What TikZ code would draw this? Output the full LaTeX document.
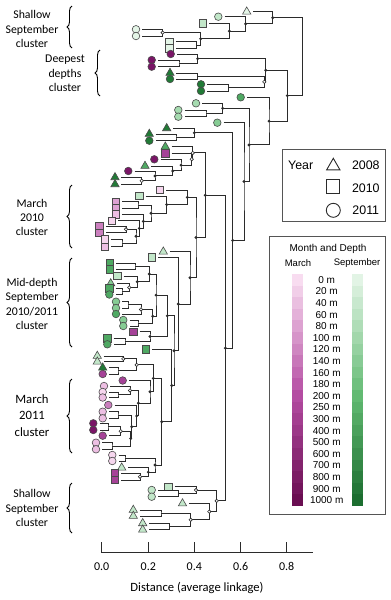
\documentclass[tikz,border=0pt]{standalone}
\usepackage{fontspec}
\setmainfont{Carlito}
\newfontfamily\arialf{Liberation Sans}
\usetikzlibrary{calc,shapes.geometric,decorations.pathreplacing}
\pgfdeclarelayer{fg}
\pgfsetlayers{main,fg}
\definecolor{ln}{HTML}{2B2B2B}
\definecolor{mkl}{HTML}{4A4A4A}
\definecolor{bx}{HTML}{555555}
\definecolor{sVL}{HTML}{E4F5E7}
\definecolor{sL}{HTML}{C2E7C9}
\definecolor{sL2}{HTML}{A6DBB0}
\definecolor{sM}{HTML}{86CC94}
\definecolor{sG}{HTML}{4FA963}
\definecolor{sD}{HTML}{217A36}
\definecolor{mVL}{HTML}{F6D6EE}
\definecolor{mL}{HTML}{EDBFE3}
\definecolor{mM}{HTML}{DDA2D3}
\definecolor{mM2}{HTML}{CB7FBE}
\definecolor{mP}{HTML}{A54297}
\definecolor{mD}{HTML}{7A1567}
\definecolor{marA}{HTML}{F8DCF0}
\definecolor{marB}{HTML}{B44CA2}
\definecolor{marC}{HTML}{6A0E52}
\definecolor{sepA}{HTML}{E2F4E5}
\definecolor{sepB}{HTML}{62BA72}
\definecolor{sepC}{HTML}{1C6E30}
\tikzset{
 mkc/.style={circle,draw=mkl,line width=0.6pt,fill=#1,minimum size=7.6pt,inner sep=0pt},
 mks/.style={rectangle,draw=mkl,line width=0.6pt,fill=#1,minimum size=7.2pt,inner sep=0pt},
 mkt/.style={regular polygon,regular polygon sides=3,draw=mkl,line width=0.6pt,fill=#1,minimum size=9.6pt,inner sep=0pt},
 br/.style={draw=ln,line width=0.95pt},
 lab/.style={align=center,font=\fontsize{11.8}{14.3}\selectfont,inner sep=0pt},
 brc/.style={decorate,decoration={brace,amplitude=5pt},line width=0.9pt,draw=black},
 yr/.style={draw=ln,line width=0.9pt,fill=white,inner sep=0pt},
 dep/.style={font=\arialf\fontsize{10}{11}\selectfont,inner sep=0pt},
 yl/.style={font=\arialf\fontsize{12.4}{14}\selectfont,inner sep=0pt},
}
\newcommand\lf[5]{\node[mk#4=#5] (m#1) at (#2,#3) {}; \coordinate (#1) at ({#2+6.3},#3);}
\newcommand\nd[5]{%
 \coordinate (xr#1) at (#2,0);
 \coordinate (md#1) at ($(#3)!0.5!(#4)$);
 \coordinate (#1) at (xr#1 |- md#1);
 \draw[br] (#3) -| (#1) |- (#4);
 \ifx b#5 \begin{pgfonlayer}{fg}\fill[ln] (#1) circle (1.6pt);\end{pgfonlayer}\fi
 \ifx w#5 \begin{pgfonlayer}{fg}\filldraw[fill=white,draw=ln,line width=0.6pt] (#1) circle (1.7pt);\end{pgfonlayer}\fi
}
\begin{document}
\begin{tikzpicture}[x=1pt,y=-1pt]
\useasboundingbox (0,0) rectangle (391,600);
% ---------- leaves ----------
\lf{t1}{246.7}{11.7}{t}{sVL}
\lf{t2}{218.3}{16.7}{c}{sL}
\lf{t3}{202.7}{23.3}{s}{sL}
\lf{t4}{136}{29.3}{c}{sVL}
\lf{t5}{136}{36}{c}{sVL}
\lf{t6}{169.3}{41.7}{s}{sVL}
\lf{t7}{169.3}{48.3}{s}{sVL}
\lf{d1}{170.7}{54}{c}{mD}
\lf{d2}{151.7}{60}{c}{mD}
\lf{d3}{151.7}{66.7}{c}{mD}
\lf{d4}{170}{73}{t}{sD}
\lf{d5}{170}{79}{c}{sD}
\lf{d6}{201}{84.3}{c}{sD}
\lf{d7}{201}{91}{c}{sD}
\lf{e1}{240.7}{97.3}{c}{sG}
\lf{e2}{196}{103.3}{c}{sL2}
\lf{e3}{178.3}{110}{c}{sL2}
\lf{e4}{178.3}{116.7}{c}{sL2}
\lf{e5}{217.3}{122.7}{c}{sM}
\lf{g1}{166.7}{128.3}{t}{sD}
\lf{g2}{149.3}{134}{t}{sD}
\lf{g3}{149.3}{140.7}{c}{sD}
\lf{h1}{165.3}{146.7}{t}{sG}
\lf{h2}{165.3}{153.3}{s}{mP}
\lf{h3}{154.3}{159.3}{c}{mD}
\lf{h4}{145}{166}{t}{sG}
\lf{h5}{128.3}{171}{c}{mD}
\lf{h6}{115}{177.3}{t}{sD}
\lf{h7}{115}{184.3}{t}{sD}
\lf{k1}{160}{190}{s}{mVL}
\lf{k2}{139.3}{196}{s}{sL}
\lf{k3}{116}{201.7}{s}{mM}
\lf{k4}{116}{208.3}{s}{mM}
\lf{k5}{116}{214.3}{s}{mL}
\lf{k6}{111.7}{220.7}{s}{mVL}
\lf{k7}{99.3}{226}{s}{mM2}
\lf{k8}{99.3}{232.7}{s}{mM2}
\lf{k9}{105}{239.3}{s}{mVL}
\lf{k10}{105}{246.7}{s}{mL}
\lf{v1}{163.3}{251.7}{t}{sL}
\lf{w1}{151.7}{257.3}{s}{sL}
\lf{m1}{110}{263.3}{s}{sG}
\lf{m2}{110}{269.3}{s}{sG}
\lf{m3}{117.3}{276}{s}{sL}
\lf{m4}{110.7}{283.5}{t}{sM}
\lf{m5}{109.3}{288.3}{s}{sG}
\lf{m6}{109.3}{294.5}{c}{sG}
\lf{m7}{116}{301.7}{c}{sM}
\lf{m8}{116}{308}{c}{sM}
\lf{m9}{116}{314}{c}{sG}
\lf{m10}{123.3}{320}{c}{sM}
\lf{m11}{123.3}{326}{c}{sM}
\lf{m12}{133.3}{331.7}{s}{mP}
\lf{m13}{107.3}{338.3}{s}{sG}
\lf{m14}{107.3}{344.3}{c}{sG}
\lf{m15}{145.7}{349.3}{s}{sG}
\lf{r1}{97.3}{356}{t}{sL}
\lf{r2}{97.3}{361.7}{t}{sL}
\lf{r3}{102.7}{367.7}{t}{sD}
\lf{r4}{102.7}{374}{c}{mP}
\lf{r5}{122.7}{380.5}{c}{mP}
\lf{r6}{104}{386}{c}{mL}
\lf{r7}{102.7}{392}{c}{mVL}
\lf{r8}{102.7}{397.5}{c}{mL}
\lf{r9}{108.3}{405}{c}{mM2}
\lf{r10}{102.7}{411.7}{c}{mL}
\lf{r11}{102.7}{418.3}{c}{mL}
\lf{r12}{93.3}{423.3}{c}{mD}
\lf{r13}{93.3}{430}{c}{mD}
\lf{r14}{102.7}{435.7}{c}{mP}
\lf{r15}{96}{442.7}{c}{mL}
\lf{r16}{96}{449.3}{c}{mL}
\lf{r17}{112.3}{455}{c}{mVL}
\lf{r18}{112.3}{461}{c}{mVL}
\lf{r19}{121.7}{467.7}{t}{sL}
\lf{r20}{114.7}{473.3}{s}{mP}
\lf{r21}{114.7}{480}{s}{mP}
\lf{s1}{168.3}{486.7}{s}{sL}
\lf{s2}{151.7}{490}{c}{sL}
\lf{s3}{151.7}{496.7}{c}{sL}
\lf{s4}{182.5}{503.5}{t}{sL}
\lf{s5}{133.3}{510}{t}{sL}
\lf{s6}{133.3}{516}{t}{sL}
\lf{s7}{142.7}{523.3}{t}{sL}
\lf{s8}{142.7}{529.7}{t}{sL}
% ---------- internal nodes ----------
\nd{nH}{162.7}{t4}{t5}{w}
\nd{nI}{196.7}{t6}{t7}{n}
\nd{nG}{200.7}{nH}{nI}{b}
\nd{nF}{229.3}{t3}{nG}{b}
\nd{nE}{245.7}{t2}{nF}{b}
\nd{nTop}{272.7}{t1}{nE}{b}
\nd{ndA}{179}{d2}{d3}{n}
\nd{nJ}{197.7}{d1}{ndA}{b}
\nd{ndB}{197.7}{d4}{d5}{n}
\nd{ndC}{228.3}{d6}{d7}{n}
\nd{nK}{264.3}{ndB}{ndC}{w}
\nd{nC}{265.7}{nJ}{nK}{b}
\nd{neA}{206}{e3}{e4}{n}
\nd{nP}{222.7}{e2}{neA}{b}
\nd{ngA}{176}{g2}{g3}{n}
\nd{nGt}{194.3}{g1}{ngA}{b}
\nd{nhA}{141.7}{h6}{h7}{w}
\nd{nhB}{155}{h5}{nhA}{b}
\nd{nhC}{172.7}{h4}{nhB}{b}
\nd{nhD}{181}{h3}{nhC}{b}
\nd{nhE}{191.7}{h2}{nhD}{w}
\nd{nhF}{192.7}{h1}{nhE}{w}
\nd{nkA}{138}{k3}{k4}{n}
\nd{nkB}{126}{k7}{k8}{w}
\nd{nkC}{122}{k9}{k10}{n}
\nd{nkD}{136}{nkB}{nkC}{b}
\nd{nkE}{139.3}{k6}{nkD}{b}
\nd{nkF}{143.3}{k5}{nkE}{b}
\nd{nkG}{151}{nkA}{nkF}{b}
\nd{nkH}{166.7}{k2}{nkG}{b}
\nd{nkI}{187.3}{k1}{nkH}{b}
\nd{nmA}{135}{m1}{m2}{n}
\nd{nmB}{122}{m5}{m6}{n}
\nd{nmC}{129.3}{m4}{nmB}{w}
\nd{nmD}{137.3}{m3}{nmC}{b}
\nd{nmE}{149.3}{nmA}{nmD}{b}
\nd{nmF}{128}{m7}{m8}{n}
\nd{nmG}{141}{nmF}{m9}{w}
\nd{nmH}{138}{m10}{m11}{n}
\nd{nmI}{152.7}{nmG}{nmH}{b}
\nd{nmJ}{156}{nmE}{nmI}{b}
\nd{nmK}{125}{m13}{m14}{n}
\nd{nmL}{150}{m12}{nmK}{b}
\nd{nXa}{167.3}{nmJ}{nmL}{b}
\nd{nrA}{123.3}{r1}{r2}{w}
\nd{nrB}{118}{r3}{r4}{n}
\nd{nrC}{136.7}{nrA}{nrB}{w}
\nd{nrD}{118}{r7}{r8}{n}
\nd{nrE}{130}{r6}{nrD}{w}
\nd{nrF}{118}{r10}{r11}{n}
\nd{nrG}{108}{r12}{r13}{n}
\nd{nrH}{120.7}{nrG}{r14}{w}
\nd{nrI}{112}{r15}{r16}{n}
\nd{nrJ}{130.7}{nrH}{nrI}{b}
\nd{nrK}{131.7}{nrF}{nrJ}{b}
\nd{nrL}{136.7}{r9}{nrK}{b}
\nd{nrM}{138.3}{nrE}{nrL}{b}
\nd{nrN}{150}{r5}{nrM}{b}
\nd{nrO}{153.3}{nrC}{nrN}{b}
\nd{nrP}{125}{r17}{r18}{n}
\nd{nrQ}{140}{r20}{r21}{w}
\nd{nrR}{148.3}{r19}{nrQ}{b}
\nd{nrS}{155}{nrP}{nrR}{b}
\nd{nMe}{161.7}{nrO}{nrS}{b}
\nd{nXb}{171.7}{m15}{nMe}{b}
\nd{nU}{174}{nXa}{nXb}{b}
\nd{nW}{178.3}{w1}{nU}{b}
\nd{nV}{190}{v1}{nW}{b}
\nd{nT}{196}{nkI}{nV}{b}
\nd{nS}{205.3}{nhF}{nT}{b}
\nd{nsA}{178.3}{s2}{s3}{n}
\nd{nsB}{196}{s1}{nsA}{w}
\nd{nsC}{161}{s5}{s6}{n}
\nd{nsD}{169.3}{s7}{s8}{n}
\nd{nsE}{190.7}{nsC}{nsD}{w}
\nd{nsF}{209.3}{s4}{nsE}{w}
\nd{nR}{216.7}{nsB}{nsF}{w}
\nd{nQ}{225.3}{nS}{nR}{b}
\nd{nNa}{232.7}{nGt}{nQ}{b}
\nd{nNb}{244}{e5}{nNa}{b}
\nd{nL}{249}{nP}{nNb}{b}
\nd{nD}{269}{e1}{nL}{b}
\nd{nB}{287.3}{nC}{nD}{b}
\nd{nRoot}{302.7}{nTop}{nB}{n}
% ---------- axis ----------
\draw[draw=ln,line width=0.9pt] (101.7,552.7) coordinate (ax0) -- (313,552.7) coordinate (ax1);
\foreach \xx/\ll [count=\k] in {101.7/0.0,148.3/0.2,194.3/0.4,240.7/0.6,286.7/0.8}{
  \draw[draw=ln,line width=0.9pt] (\xx,542) -- (\xx,552.7);
  \node[font=\fontsize{12}{14}\selectfont,inner sep=0pt] (tl\k) at (\xx,566.7) {\ll};
}
\node[font=\fontsize{12.6}{15}\selectfont,inner sep=0pt] (axt) at (197,588) {Distance (average linkage)};
% ---------- cluster labels ----------
\draw[brc] (72,48) -- (72,6);
\node[lab] (L1) at (32,29) {Shallow\\September\\cluster};
\draw[brc] (100,96) -- (100,50);
\node[lab] (L2) at (65,73.5) {Deepest\\depths\\cluster};
\draw[brc] (72,248) -- (72,185);
\node[lab] (L3) at (32,217.5) {March\\2010\\cluster};
\draw[brc] (72,347) -- (72,258);
\node[lab] (L4) at (32,304) {Mid-depth\\September\\2010/2011\\cluster};
\draw[brc] (72,453) -- (72,379);
\node[lab,font=\fontsize{12.7}{16.5}\selectfont] (L5) at (32,415.5) {March\\2011\\cluster};
\draw[brc] (72,533) -- (72,483);
\node[lab] (L6) at (32,508) {Shallow\\September\\cluster};
% ---------- year legend ----------
\draw[draw=bx,line width=0.9pt] (282.7,149) rectangle (385.7,221.7);
\node[yl] (yt) at (300.7,165) {Year};
\node[yr,regular polygon,regular polygon sides=3,minimum size=15.4pt] (y1) at (333.3,166) {};
\node[yr,rectangle,minimum size=13.5pt] (y2) at (332.7,186.5) {};
\node[yr,circle,minimum size=14pt] (y3) at (333.3,210.3) {};
\node[yl] (y1t) at (365.8,165) {2008};
\node[yl] (y2t) at (365.8,188.3) {2010};
\node[yl] (y3t) at (365.8,210.3) {2011};
% ---------- month/depth legend ----------
\draw[draw=bx,line width=0.9pt] (269,236) rectangle (385.7,514);
\node[font=\arialf\fontsize{10}{12}\selectfont,inner sep=0pt] (mt) at (328,249) {Month and Depth};
\node[font=\arialf\fontsize{9.5}{11}\selectfont,inner sep=0pt] (mm) at (298,263) {March};
\node[font=\arialf\fontsize{9.5}{11}\selectfont,inner sep=0pt] (ms) at (357,263) {September};
\foreach \i in {0,...,19}{
  \ifnum\i<10
    \pgfmathtruncatemacro\pp{\i*10}
    \colorlet{gradM}{marB!\pp!marA}\colorlet{gradS}{sepB!\pp!sepA}
  \else
    \pgfmathtruncatemacro\pp{(\i-10)*100/9}
    \colorlet{gradM}{marC!\pp!marB}\colorlet{gradS}{sepC!\pp!sepB}
  \fi
  \fill[fill=gradM] (291.7,{274+11.6*\i}) rectangle (303.3,{274.3+11.6*(\i+1)});
  \fill[fill=gradS] (351.7,{274+11.6*\i}) rectangle (362.7,{274.3+11.6*(\i+1)});
}
\foreach \t [count=\k from 0] in {0,20,40,60,80,100,120,140,160,180,200,250,300,400,500,600,700,800,900,1000}{
  \node[dep] (dl\k) at (326.7,{279.8+11.6*\k}) {\t~m};
}
\end{tikzpicture}
\end{document}
